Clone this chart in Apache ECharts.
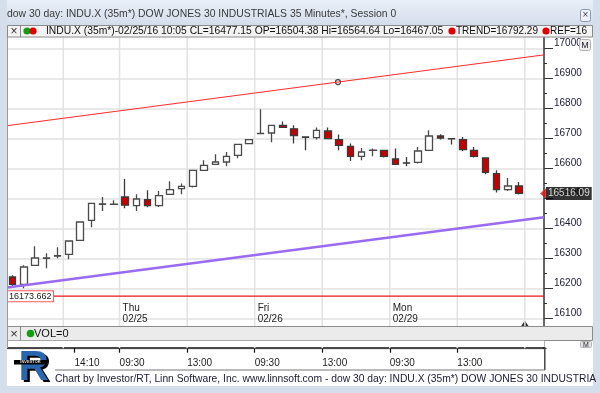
<!DOCTYPE html>
<html><head><meta charset="utf-8">
<script src="https://cdn.jsdelivr.net/npm/echarts@6/dist/echarts.min.js"></script>
<style>html,body{margin:0;padding:0;background:#fff}#c{width:600px;height:393px}</style>
</head><body><div id="c"></div>
<script>
// ---- data (35-minute bars, index 0 = first visible bar) ----
const opens  = [16237.7,16213.3,16276.7,16300,16307.7,16313.3,16360,16426.7,16480,16480,
                16504.38,16475.7,16495.7,16475.7,16513.3,16532.3,16540,16593.3,16613.3,16621,
                16643.3,16682.3,16715.7,16717.7,16743.3,16731.7,16704.3,16702.3,16724.3,16695.7,
                16673.3,16640,16660,16660,16631,16617.7,16620,16660,16707.7,16699,
                16695.7,16660,16634.3,16582.3,16529,16541];
const closes = [16213.3,16271,16301,16301,16308.5,16357.7,16421,16483.3,16481,16480.5,
                16477.15,16497.7,16475.7,16509,16529,16540,16593.3,16610,16621,16640,
                16680,16695.7,16716.5,16743.3,16736.7,16709.3,16703.5,16726.7,16699,16676.7,
                16640,16654.3,16660.8,16640,16613.3,16617,16657.7,16707.7,16701,16698.5,
                16662.3,16640,16586.7,16529,16541,16516.09];
const lows   = [16206.7,16200,16275,16266.7,16300,16296.7,16358,16403.3,16457.7,16478,
                16467.05,16457.7,16470,16471,16512,16513.3,16535.7,16592,16612,16606.7,
                16633.3,16681,16715,16686.7,16735,16682.3,16660,16695.7,16697,16660,
                16624.3,16626.7,16640,16635.7,16612,16606.7,16615.7,16659,16695.7,16679,
                16657.7,16635.7,16580,16519,16524.3,16513];
const highs  = [16243.3,16276.7,16340,16316.7,16336.7,16359,16423,16485,16504.3,16493.3,
                16564.64,16513.3,16526.7,16524.3,16556.7,16549,16595,16626.7,16646.7,16654.3,
                16682,16697,16796.7,16745,16755.7,16743.3,16705,16735.7,16735.7,16712.3,
                16682.3,16667.7,16665.7,16661,16665.7,16637.7,16671,16726.7,16713.3,16700,
                16704.3,16671,16636,16593.3,16567.7,16554.3];
const priceLabels    = [16100,16200,16300,16400,16500,16600,16700,16800,16900,17000];
const timeTickPos    = [5.5, 9.5, 15.5, 21.5, 27.5, 33.5, 39.5];
const timeTickLabels = ['14:10','09:30','13:00','09:30','13:00','09:30','13:00'];
const dayTickPos     = [9.5, 21.5, 33.5];
const dayTickLabels  = ['Thu\n02/25','Fri\n02/26','Mon\n02/29'];
const gridLineX      = [4.5, 9.5, 15.5, 21.5, 27.5, 33.5, 39.5, 45.5];
const trendUpper     = [[-0.5, 16742], [47.2, 16978]];
const trendLower     = [[-0.5, 16203], [47.2, 16437]];
const trendMarker    = [[28.9, 16887.5]];
const refLevel       = 16173.662;
const lastPrice      = 16516.09;
const sessionMark    = [[45.5, 16083]];
const legendBar      = 10;
const trendValue     = 16792.29;
const volValue       = 0;

const X_MIN = -0.5, X_MAX = 47.2;
const FONT = 'Liberation Sans';

const candleData = opens.map((o, i) => [i, o, closes[i], lows[i], highs[i]]);

const chart = echarts.init(document.getElementById('c'), null, {renderer: 'canvas'});

const gridSeries = gridLineX.map(x => ({
  type: 'line', xAxisIndex: 0, yAxisIndex: 0, silent: true, symbol: 'none', animation: false,
  data: [[x, 16000], [x, 17100]],
  lineStyle: {color: '#e2e2e2', width: 1.5}
}));

const legendText = 'INDU.X (35m*)-02/25/16 10:05 CL=' + closes[legendBar].toFixed(2) +
  ' OP=' + opens[legendBar].toFixed(2) + ' Hi=' + highs[legendBar].toFixed(2) +
  ' Lo=' + lows[legendBar].toFixed(2);

const blueStrip = '#d5dfec';
const Z = 100;

const option = {
  backgroundColor: '#ffffff',
  animation: false,
  grid: [
    {left: 7, right: 56, top: 18.3, height: 330},
    {left: 7, right: 56, top: 38, height: 288},
    {left: 7, right: 56, top: 341, height: 6.7}
  ],
  xAxis: [
    {type: 'value', gridIndex: 0, min: X_MIN, max: X_MAX, show: false},
    {type: 'value', gridIndex: 1, min: X_MIN, max: X_MAX,
     axisLine: {show: false}, axisTick: {show: false}, splitLine: {show: false},
     axisLabel: {inside: true, customValues: dayTickPos,
       formatter: v => dayTickLabels[dayTickPos.indexOf(v)],
       align: 'left', verticalAlign: 'bottom', margin: 1, lineHeight: 11,
       fontSize: 10, fontFamily: FONT, color: '#222', padding: [0, 0, 0, 3]}},
    {type: 'value', gridIndex: 2, min: X_MIN, max: X_MAX, position: 'bottom',
     axisLine: {show: true, onZero: false, lineStyle: {color: '#111', width: 1.5}},
     axisTick: {show: true, customValues: timeTickPos, length: 5, lineStyle: {color: '#111', width: 1.2}},
     splitLine: {show: false},
     axisLabel: {customValues: timeTickPos,
       formatter: v => timeTickLabels[timeTickPos.indexOf(v)],
       align: 'left', margin: 11, fontSize: 10, fontFamily: FONT, color: '#222'}}
  ],
  yAxis: [
    {type: 'value', gridIndex: 0, position: 'right', min: 16000, max: 17100, interval: 100,
     axisLine: {show: true, onZero: false, lineStyle: {color: '#333', width: 1.5}},
     axisTick: {show: true, length: 9, lineStyle: {color: '#333'}},
     minorTick: {show: true, splitNumber: 2, length: 3, lineStyle: {color: '#333'}},
     splitLine: {show: true, lineStyle: {color: '#e2e2e2', width: 1.5}},
     axisLabel: {margin: 10, verticalAlign: 'bottom', color: '#20203a', fontSize: 10, fontFamily: FONT,
       formatter: v => priceLabels.includes(v) ? String(v) : ''}},
    {type: 'value', gridIndex: 1, min: 0, max: 1, show: false},
    {type: 'value', gridIndex: 2, min: 0, max: 1, show: false}
  ],
  series: [
    ...gridSeries,
    {type: 'line', name: 'trendUpper', xAxisIndex: 0, yAxisIndex: 0, symbol: 'none', silent: true,
     data: trendUpper, lineStyle: {color: '#ff2a2a', width: 1}},
    {type: 'line', name: 'trendLower', xAxisIndex: 0, yAxisIndex: 0, symbol: 'none', silent: true,
     data: trendLower, lineStyle: {color: '#9a6af2', width: 2.5}},
    {type: 'line', name: 'ref', xAxisIndex: 0, yAxisIndex: 0, symbol: 'none', silent: true,
     data: [[X_MIN, refLevel], [X_MAX, refLevel]], lineStyle: {color: '#e81515', width: 1.2}},
    {type: 'candlestick', name: 'INDU.X', xAxisIndex: 0, yAxisIndex: 0,
     encode: {x: 0, y: [1, 2, 3, 4]},
     barWidth: 7,
     data: candleData,
     itemStyle: {color: '#ffffff', color0: '#c40000', borderColor: '#4a4a4a', borderColor0: '#3a3a3a', borderWidth: 1.3}},
    {type: 'scatter', xAxisIndex: 0, yAxisIndex: 0, data: trendMarker, symbol: 'circle', symbolSize: 5,
     itemStyle: {color: '#fff', borderColor: '#111', borderWidth: 1.2}},
    {type: 'scatter', xAxisIndex: 0, yAxisIndex: 0, data: sessionMark, symbol: 'triangle', symbolSize: [8, 6],
     itemStyle: {color: '#000'}},
    {type: 'scatter', xAxisIndex: 0, yAxisIndex: 0, clip: false, data: [[X_MIN, refLevel]], z: 5,
     symbol: 'circle', symbolSize: 1, itemStyle: {color: 'rgba(0,0,0,0)'},
     label: {show: true, position: 'right', distance: 0, formatter: () => refLevel.toFixed(3),
       backgroundColor: '#fff', borderColor: '#ff5a5a', borderWidth: 1, padding: [1, 1.5, 0, 1.5],
       fontSize: 9, fontFamily: FONT, color: '#222', opacity: 1}},
    {type: 'scatter', xAxisIndex: 0, yAxisIndex: 0, clip: false, data: [[X_MAX, lastPrice]],
     symbol: 'path://M0,5 L10,0 L10,10 Z', symbolSize: [6, 10], symbolOffset: [-1, 0],
     itemStyle: {color: '#e01010'},
     label: {show: true, position: 'right', distance: 0, formatter: () => lastPrice.toFixed(2),
       backgroundColor: '#000', padding: [2, 2, 1, 2], fontSize: 10, fontFamily: FONT, color: '#fff'}}
  ],
  graphic: [
    // window chrome
    {type: 'rect', z: Z, shape: {x: 0, y: 0, width: 600, height: 25}, silent: true,
     style: {fill: new echarts.graphic.LinearGradient(0, 0, 0, 1, [{offset: 0, color: '#e9eff7'}, {offset: 1, color: '#d4deeb'}])}},
    {type: 'rect', z: Z, shape: {x: 0, y: 0, width: 7, height: 393}, style: {fill: blueStrip}, silent: true},
    {type: 'rect', z: Z, shape: {x: 593, y: 0, width: 7, height: 393}, style: {fill: blueStrip}, silent: true},
    {type: 'rect', z: Z, shape: {x: 0, y: 386, width: 600, height: 7}, style: {fill: blueStrip}, silent: true},
    {type: 'text', z: Z + 1, x: 7, y: 14, silent: true,
     style: {text: 'dow 30 day: INDU.X (35m*) DOW JONES 30 INDUSTRIALS 35 Minutes*, Session 0',
       fill: '#3a3a3a', font: '10.4px "' + FONT + '"', verticalAlign: 'middle'}},
    {type: 'rect', z: Z + 1, shape: {x: 580.5, y: 9.5, width: 10, height: 12, r: 2}, silent: true,
     style: {fill: '#eef2f8', stroke: '#8896aa', lineWidth: 1}},
    {type: 'text', z: Z + 2, x: 585.5, y: 15.5, silent: true,
     style: {text: '×', fill: '#445', font: '10px "' + FONT + '"', align: 'center', verticalAlign: 'middle'}},
    // legend bar
    {type: 'rect', z: Z, shape: {x: 7.5, y: 25.5, width: 585, height: 11.5}, silent: true,
     style: {fill: '#f3f3f3', stroke: '#8a8a8a', lineWidth: 1}},
    {type: 'line', z: Z + 1, shape: {x1: 20.5, y1: 25.5, x2: 20.5, y2: 37}, style: {stroke: '#8a8a8a'}, silent: true},
    {type: 'text', z: Z + 1, x: 14, y: 31.5, silent: true,
     style: {text: '×', fill: '#333', font: '12px "' + FONT + '"', align: 'center', verticalAlign: 'middle'}},
    {type: 'circle', z: Z + 1, shape: {cx: 27, cy: 31, r: 3.6}, style: {fill: '#12a012'}, silent: true},
    {type: 'circle', z: Z + 2, shape: {cx: 33, cy: 31, r: 3.6}, style: {fill: '#e00000'}, silent: true},
    {type: 'text', z: Z + 1, x: 46, y: 31.5, silent: true,
     style: {text: legendText, fill: '#111', font: '10.3px "' + FONT + '"', verticalAlign: 'middle'}},
    {type: 'circle', z: Z + 1, shape: {cx: 452, cy: 31, r: 3.6}, style: {fill: '#e00000'}, silent: true},
    {type: 'text', z: Z + 1, x: 456, y: 31.5, silent: true,
     style: {text: 'TREND=' + trendValue.toFixed(2), fill: '#111', font: '10px "' + FONT + '"', verticalAlign: 'middle'}},
    {type: 'circle', z: Z + 1, shape: {cx: 546, cy: 31, r: 3.6}, style: {fill: '#e00000'}, silent: true},
    {type: 'text', z: Z + 1, x: 550, y: 31.5, silent: true,
     style: {text: 'REF=16', fill: '#111', font: '10px "' + FONT + '"', verticalAlign: 'middle'}},
    // M buttons
    {type: 'rect', z: Z + 1, shape: {x: 579.5, y: 39.5, width: 11, height: 11, r: 2}, silent: true,
     style: {fill: '#eeeeee', stroke: '#b0b0b0'}},
    {type: 'text', z: Z + 2, x: 585, y: 45.5, silent: true,
     style: {text: 'M', fill: '#223', font: '9px "' + FONT + '"', align: 'center', verticalAlign: 'middle'}},
    // VOL bar
    {type: 'rect', z: Z, shape: {x: 7.5, y: 326.5, width: 585, height: 14}, silent: true,
     style: {fill: '#ebebeb', stroke: '#8a8a8a', lineWidth: 1}},
    {type: 'line', z: Z + 1, shape: {x1: 20.5, y1: 326.5, x2: 20.5, y2: 340.5}, style: {stroke: '#8a8a8a'}, silent: true},
    {type: 'text', z: Z + 1, x: 14, y: 334, silent: true,
     style: {text: '×', fill: '#333', font: '13px "' + FONT + '"', align: 'center', verticalAlign: 'middle'}},
    {type: 'circle', z: Z + 1, shape: {cx: 30.5, cy: 333.5, r: 3.8}, style: {fill: '#12a012'}, silent: true},
    {type: 'text', z: Z + 1, x: 34, y: 334, silent: true,
     style: {text: 'VOL=' + volValue, fill: '#111', font: '11px "' + FONT + '"', verticalAlign: 'middle'}},
    // cover strip below VOL bar
    {type: 'rect', z: Z, shape: {x: 7.5, y: 340.8, width: 537, height: 6.2}, style: {fill: '#fff'}, silent: true},
    {type: 'rect', z: Z, shape: {x: 546.5, y: 341, width: 46, height: 12}, style: {fill: '#fff'}, silent: true},
    {type: 'rect', z: Z + 1, shape: {x: 580.5, y: 341.5, width: 11, height: 6, r: 1}, silent: true,
     style: {fill: '#e4e4e4', stroke: '#b5b5b5'}},
    {type: 'text', z: Z + 2, x: 586, y: 345, silent: true,
     style: {text: 'M', fill: '#223', font: '7px "' + FONT + '"', align: 'center', verticalAlign: 'middle'}},
    // frame lines
    {type: 'line', z: Z, shape: {x1: 7.5, y1: 37, x2: 7.5, y2: 348}, style: {stroke: '#9a9a9a'}, silent: true},
    {type: 'line', z: Z, shape: {x1: 544.8, y1: 347, x2: 544.8, y2: 370}, style: {stroke: '#444', lineWidth: 1.5}, silent: true},
    {type: 'line', z: Z, shape: {x1: 55, y1: 370, x2: 545, y2: 370}, style: {stroke: '#777'}, silent: true},
    // logo
    {type: 'text', z: Z, x: 21, y: 349, silent: true,
     style: {text: 'R', fill: '#000', font: 'bold 42px "' + FONT + '"'}},
    {type: 'text', z: Z + 1, x: 18.5, y: 347, silent: true,
     style: {text: 'R', fill: '#2a66ad', font: 'bold 42px "' + FONT + '"'}},
    {type: 'rect', z: Z + 2, shape: {x: 14, y: 360, width: 33, height: 4.5}, style: {fill: '#000'}, silent: true},
    {type: 'text', z: Z + 3, x: 30.5, y: 362.3, silent: true,
     style: {text: 'INVESTOR', fill: '#ddd', font: 'bold 4px "' + FONT + '"', align: 'center', verticalAlign: 'middle'}},
    // footer
    {type: 'text', z: Z, x: 55, y: 379, silent: true,
     style: {text: 'Chart by Investor/RT, Linn Software, Inc. www.linnsoft.com - dow 30 day: INDU.X (35m*) DOW JONES 30 INDUSTRIA',
       fill: '#1a1a33', font: '10.3px "' + FONT + '"', verticalAlign: 'middle'}}
  ]
};
chart.setOption(option);
</script></body></html>
